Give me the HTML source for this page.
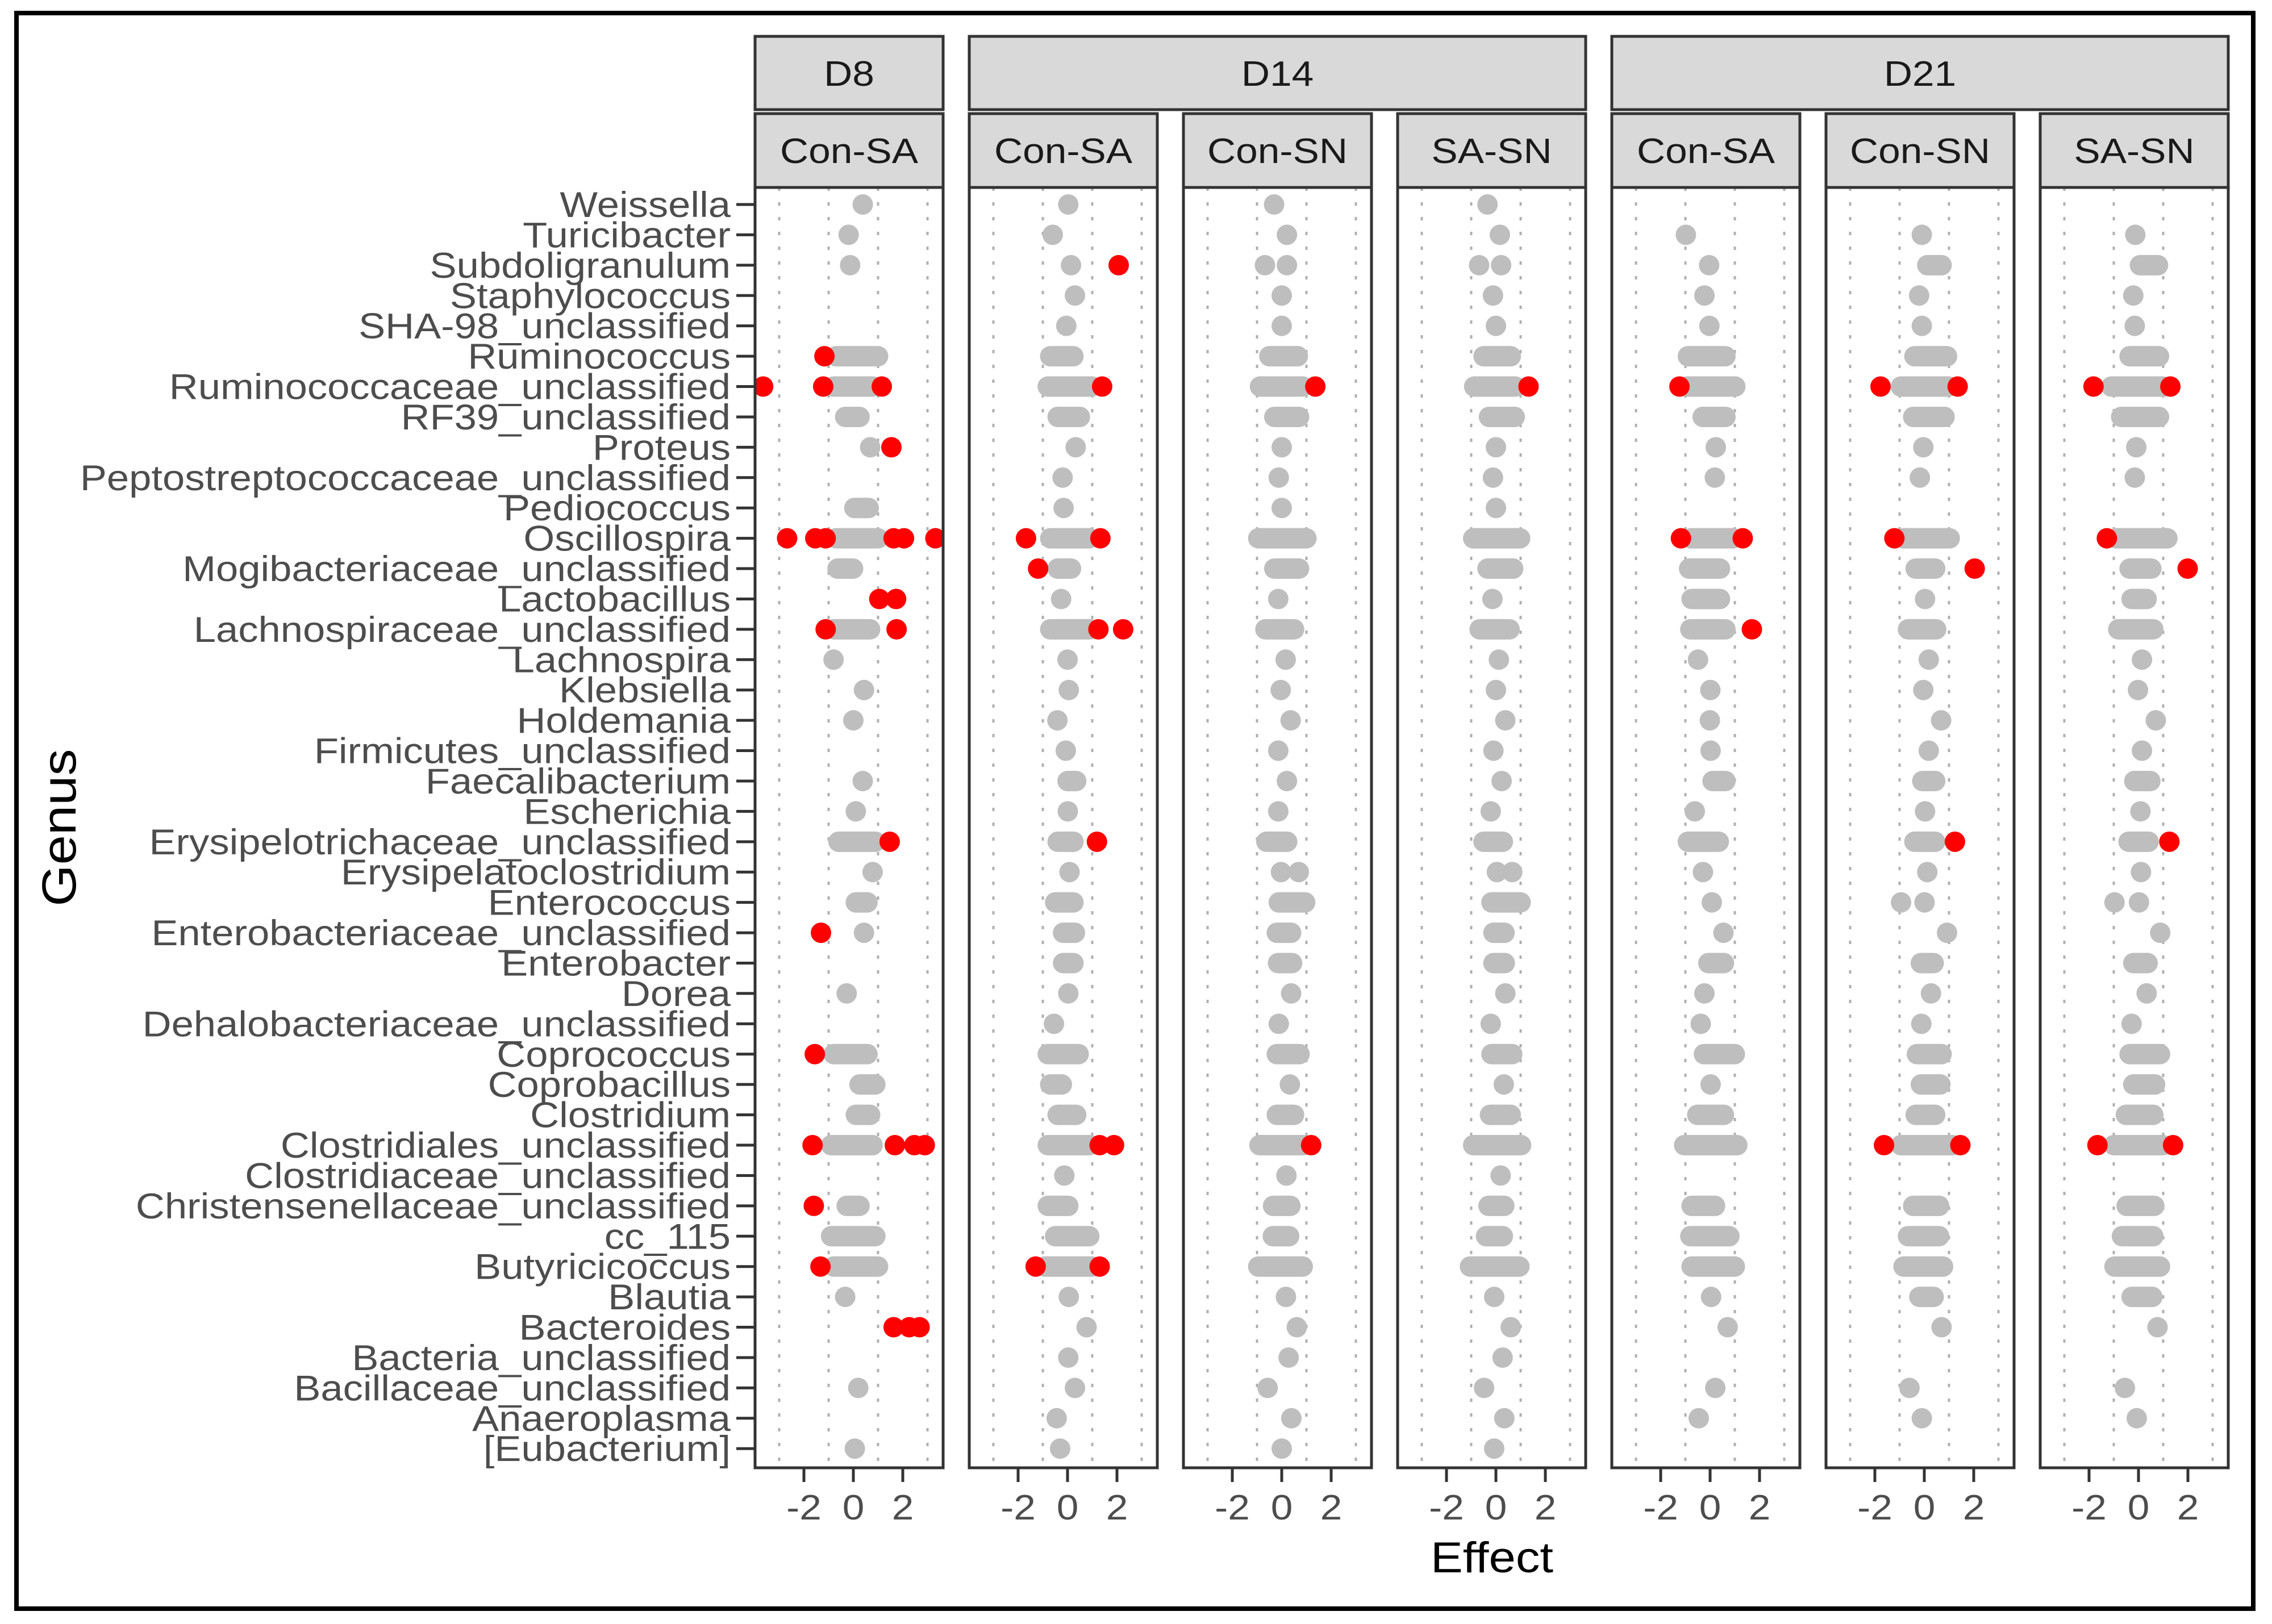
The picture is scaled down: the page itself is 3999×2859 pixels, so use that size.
<!DOCTYPE html>
<html><head><meta charset="utf-8"><style>
html,body{margin:0;padding:0;background:#fff}
svg{display:block}
text{font-family:"Liberation Sans",sans-serif}
</style></head><body>
<svg id="chart" xmlns="http://www.w3.org/2000/svg" width="3999" height="2859" viewBox="0 0 3999 2859">
<rect x="0" y="0" width="3999" height="2859" fill="#fff"/>
<rect x="29" y="23" width="3937" height="2809" fill="none" stroke="#000" stroke-width="8"/>
<g id="layer"></g>
</svg>
<script>
const genera = ["Weissella","Turicibacter","Subdoligranulum","Staphylococcus","SHA-98_unclassified","Ruminococcus","Ruminococcaceae_unclassified","RF39_unclassified","Proteus","Peptostreptococcaceae_unclassified","Pediococcus","Oscillospira","Mogibacteriaceae_unclassified","Lactobacillus","Lachnospiraceae_unclassified","Lachnospira","Klebsiella","Holdemania","Firmicutes_unclassified","Faecalibacterium","Escherichia","Erysipelotrichaceae_unclassified","Erysipelatoclostridium","Enterococcus","Enterobacteriaceae_unclassified","Enterobacter","Dorea","Dehalobacteriaceae_unclassified","Coprococcus","Coprobacillus","Clostridium","Clostridiales_unclassified","Clostridiaceae_unclassified","Christensenellaceae_unclassified","cc_115","Butyricicoccus","Blautia","Bacteroides","Bacteria_unclassified","Bacillaceae_unclassified","Anaeroplasma","[Eubacterium]"];
const panelLabels = ["Con-SA","Con-SA","Con-SN","SA-SN","Con-SA","Con-SN","SA-SN"];
const dayLabels = ["D8","D14","D21"];
const xTicks = [-2,0,2];
const xTickLabels = ["-2","0","2"];
const gridVals = [-3,-1,1,3];
const grayD8 = [[0.38],[-0.19],[-0.13],[],[],[[-0.7,1.0]],[[-0.8,0.78]],[[-0.33,0.25]],[0.68],[],[[0.04,0.62]],[[-0.7,1.0]],[[-0.64,-0.01]],[],[[-0.8,0.68]],[-0.8],[0.43],[0.0],[],[0.38],[0.1],[[-0.6,0.89]],[0.78],[[0.1,0.57]],[0.43],[],[-0.27],[],[[-0.8,0.57]],[[0.25,0.89]],[[0.1,0.68]],[[-0.9,0.78]],[],[[-0.27,0.25]],[[-0.9,0.89]],[[-0.8,1.0]],[-0.33],[],[],[0.2],[],[0.06]];
const grayD14a = [[0.03],[-0.6],[0.14],[0.3],[-0.05],[[-0.7,0.24]],[[-0.8,0.98]],[[-0.4,0.5]],[0.33],[-0.2],[-0.16],[[-0.7,0.88]],[[-0.4,0.14]],[-0.26],[[-0.7,0.88]],[0],[0.05],[-0.41],[-0.07],[[0,0.35]],[0.01],[[-0.4,0.24]],[0.08],[[-0.5,0.24]],[[-0.18,0.3]],[[-0.18,0.24]],[0.03],[-0.55],[[-0.8,0.45]],[[-0.7,-0.23]],[[-0.4,0.35]],[[-0.8,0.88]],[-0.13],[[-0.8,0.03]],[[-0.5,0.88]],[[-0.92,1.0]],[0.05],[0.77],[0.03],[0.3],[-0.44],[-0.3]];
const grayD14b = [[-0.31],[0.21],[-0.68,0.21],[0],[0],[[-0.5,0.65]],[[-0.88,0.85]],[[-0.3,0.7]],[0],[-0.12],[0],[[-0.95,1.0]],[[-0.3,0.7]],[-0.14],[[-0.66,0.5]],[0.16],[-0.04],[0.36],[-0.14],[0.21],[-0.14],[[-0.62,0.22]],[-0.03,0.69],[[-0.12,0.95]],[[-0.2,0.38]],[[-0.15,0.42]],[0.38],[-0.12],[[-0.2,0.72]],[0.33],[[-0.2,0.5]],[[-0.9,0.9]],[0.19],[[-0.35,0.35]],[[-0.36,0.3]],[[-0.95,0.85]],[0.17],[0.61],[0.28],[-0.57],[0.39],[0]];
const grayD14c = [[-0.34],[0.16],[-0.68,0.21],[-0.12],[0],[[-0.5,0.6]],[[-0.88,0.78]],[[-0.28,0.76]],[0],[-0.12],[0],[[-0.92,0.98]],[[-0.34,0.7]],[-0.14],[[-0.66,0.55]],[0.12],[0],[0.38],[-0.1],[0.23],[-0.21],[[-0.5,0.28]],[0.04,0.66],[[-0.18,1.0]],[[-0.1,0.35]],[[-0.1,0.36]],[0.38],[-0.21],[[-0.18,0.66]],[0.32],[[-0.24,0.6]],[[-0.92,1.02]],[0.19],[[-0.3,0.34]],[[-0.4,0.28]],[[-1.05,0.95]],[-0.07],[0.6],[0.27],[-0.48],[0.34],[-0.07]];
const grayD21a = [[],[-0.98],[-0.04],[-0.23],[-0.03],[[-0.9,0.62]],[[-0.95,1.02]],[[-0.3,0.62]],[0.23],[0.19],[],[[-0.79,0.93]],[[-0.85,0.4]],[[-0.75,0.4]],[[-0.8,0.62]],[-0.49],[0.01],[-0.01],[0.02],[[0.1,0.62]],[-0.62],[[-0.9,0.35]],[-0.29],[0.07],[0.54],[[-0.07,0.56]],[-0.23],[-0.38],[[-0.25,1.0]],[0.02],[[-0.52,0.56]],[[-1.05,1.1]],[],[[-0.75,0.2]],[[-0.8,0.78]],[[-0.75,1.0]],[0.04],[0.71],[],[0.21],[-0.46],[]];
const grayD21b = [[],[-0.1],[[0.12,0.7]],[-0.21],[-0.1],[[-0.4,0.92]],[[-0.95,0.98]],[[-0.45,0.82]],[-0.04],[-0.18],[],[[-0.84,1.03]],[[-0.35,0.44]],[0.03],[[-0.66,0.48]],[0.18],[-0.04],[0.68],[0.18],[[-0.08,0.44]],[0.03],[[-0.4,0.44]],[0.12],[-0.94,0.01],[0.92],[[-0.14,0.38]],[0.27],[-0.12],[[-0.3,0.7]],[[-0.14,0.65]],[[-0.35,0.44]],[[-0.95,1.15]],[],[[-0.45,0.6]],[[-0.66,0.6]],[[-0.84,0.76]],[[-0.2,0.38]],[0.7],[],[-0.6],[-0.1],[]];
const grayD21c = [[],[-0.13],[[0.06,0.79]],[-0.21],[-0.15],[[-0.36,0.83]],[[-1.1,0.98]],[[-0.7,0.83]],[-0.09],[-0.15],[],[[-0.9,1.17]],[[-0.36,0.52]],[[-0.28,0.33]],[[-0.82,0.6]],[0.14],[-0.02],[0.7],[0.14],[[-0.17,0.48]],[0.08],[[-0.4,0.41]],[0.1],[-0.97,0.02],[0.88],[[-0.21,0.37]],[0.33],[-0.28],[[-0.36,0.87]],[[-0.21,0.67]],[[-0.51,0.6]],[[-1.0,0.98]],[],[[-0.48,0.64]],[[-0.67,0.6]],[[-0.97,0.87]],[[-0.28,0.56]],[0.77],[],[-0.55],[-0.07],[]];
const redD8 = [[5,-1.17],[6,-3.65],[6,-1.22],[6,1.15],[8,1.54],[11,-2.68],[11,-1.54],[11,-1.12],[11,1.63],[11,2.05],[11,3.32],[13,1.05],[13,1.73],[14,-1.12],[14,1.75],[21,1.47],[24,-1.31],[28,-1.56],[31,-1.65],[31,1.68],[31,2.47],[31,2.89],[33,-1.6],[35,-1.33],[37,1.63],[37,2.26],[37,2.68]];
const redD14a = [[2,2.07],[6,1.4],[11,-1.68],[11,1.33],[12,-1.19],[14,1.25],[14,2.25],[21,1.19],[31,1.3],[31,1.88],[35,-1.29],[35,1.3]];
const redD14b = [[6,1.36],[31,1.19]];
const redD14c = [[6,1.32]];
const redD21a = [[6,-1.24],[11,-1.18],[11,1.32],[14,1.69]];
const redD21b = [[6,-1.77],[6,1.35],[11,-1.21],[12,2.04],[21,1.24],[31,-1.63],[31,1.46]];
const redD21c = [[6,-1.82],[6,1.29],[11,-1.28],[12,1.99],[21,1.25],[31,-1.66],[31,1.4]];

const grayAll=[grayD8,grayD14a,grayD14b,grayD14c,grayD21a,grayD21b,grayD21c];
const redAll=[redD8,redD14a,redD14b,redD14c,redD21a,redD21b,redD21c];

const NS="http://www.w3.org/2000/svg";
const L=document.getElementById('layer');
function mk(tag,attrs,parent){const e=document.createElementNS(NS,tag);for(const k in attrs)e.setAttribute(k,attrs[k]);(parent||L).appendChild(e);return e;}
const P0=1329,PSTEP=377,PW=331,PT=330,PB=2584,ZERO=173,UNIT=43.5,ROW0=360,ROWH=53.42;
const panelX=i=>P0+i*PSTEP;
const xs=(i,v)=>panelX(i)+ZERO+v*UNIT;
const ys=r=>ROW0+r*ROWH;
const SX=1.12;

genera.forEach((g,r)=>{
  const t=mk('text',{x:0,y:0,'font-size':63,fill:'#4d4d4d','text-anchor':'end',transform:`translate(1286,${ys(r)+22}) scale(${SX},1)`});
  t.textContent=g;
  
  
  const tk=mk('line',{x1:1296,x2:1329,y1:ys(r),y2:ys(r),stroke:'#333',"stroke-width":5});
  
  
});

const defs=mk('defs',{});
for(let p=0;p<7;p++){
  const x=panelX(p);
  const cp=mk('clipPath',{id:'cp'+p},defs);
  mk('rect',{x:x,y:PT,width:PW,height:PB-PT},cp);
  const bg=mk('rect',{x:x,y:PT,width:PW,height:PB-PT,fill:'#fff'});
  
  
  const g=mk('g',{'clip-path':`url(#cp${p})`});
  gridVals.forEach(v=>{
    const gl=mk('line',{x1:xs(p,v),x2:xs(p,v),y1:PT,y2:PB,stroke:'#b0b0b0','stroke-width':4,'stroke-dasharray':'6 20'},g);
    
    
  });
  grayAll[p].forEach((row,r)=>{
    row.forEach(item=>{
      if(Array.isArray(item)){
        const ln=mk('line',{x1:xs(p,item[0]),x2:xs(p,item[1]),y1:ys(r),y2:ys(r),stroke:'#bebebe','stroke-width':36,'stroke-linecap':'round'},g);
        
        
      } else {
        const c=mk('circle',{cx:xs(p,item),cy:ys(r),r:18,fill:'#bebebe'},g);
        
        
      }
    });
  });
  redAll[p].forEach(([r,v])=>{
    const c=mk('circle',{cx:xs(p,v),cy:ys(r),r:18,fill:'#ff0000'},g);
    
    
  });
  const bd=mk('rect',{x:x,y:PT,width:PW,height:PB-PT,fill:'none',stroke:'#333','stroke-width':5});
  
  
  const st=mk('rect',{x:x,y:200,width:PW,height:130,fill:'#d9d9d9',stroke:'#333','stroke-width':5});
  
  
  const stt=mk('text',{x:0,y:0,'font-size':62,fill:'#1a1a1a','text-anchor':'middle',transform:`translate(${x+PW/2},287) scale(${SX},1)`});
  stt.textContent=panelLabels[p];
  
  
  xTicks.forEach((v,k)=>{
    const tk=mk('line',{x1:xs(p,v),x2:xs(p,v),y1:PB,y2:PB+25,stroke:'#333','stroke-width':5});
    
    
    const tl=mk('text',{x:0,y:0,'font-size':62,fill:'#4d4d4d','text-anchor':'middle',transform:`translate(${xs(p,v)},2675) scale(${SX},1)`});
    tl.textContent=xTickLabels[k];
    
    
  });
}
const daySpans=[[0,0],[1,3],[4,6]];
daySpans.forEach(([a,b],k)=>{
  const x1=panelX(a),x2=panelX(b)+PW;
  const s=mk('rect',{x:x1,y:64,width:x2-x1,height:129,fill:'#d9d9d9',stroke:'#333','stroke-width':5});
  
  
  const t=mk('text',{x:0,y:0,'font-size':62,fill:'#1a1a1a','text-anchor':'middle',transform:`translate(${(x1+x2)/2},151) scale(${SX},1)`});
  t.textContent=dayLabels[k];
  
  
});
const xt=mk('text',{x:0,y:0,'font-size':76,fill:'#000','text-anchor':'middle',transform:`translate(2626,2768) scale(${SX},1)`});
xt.textContent='Effect';


const yt=mk('text',{x:0,y:0,'font-size':84,fill:'#000','text-anchor':'middle',transform:`translate(133,1457) scale(1,${SX}) rotate(-90)`});
yt.textContent='Genus';


</script>
</body></html>
